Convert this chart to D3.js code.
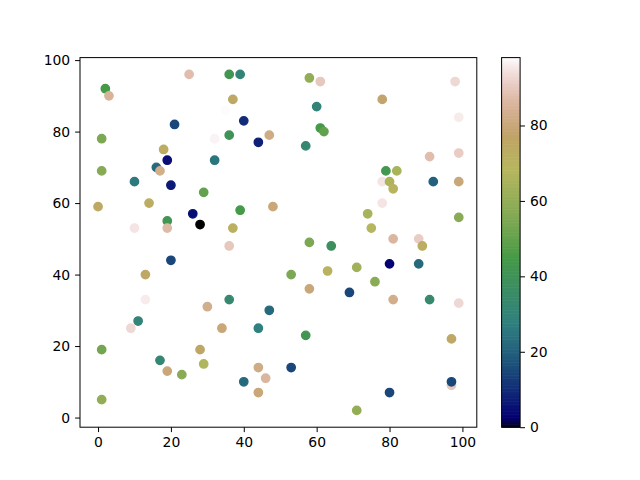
<!DOCTYPE html>
<html>
<head>
<meta charset="utf-8">
<script src="https://cdn.jsdelivr.net/npm/d3@7"></script>
<style>
  body { margin: 0; background: #fff; }
  text { font-family: "DejaVu Sans", sans-serif; }
</style>
</head>
<body>
<div id="chart-area"></div>
<script>
// scatter points
var xs = [2, 3, 25, 36, 39, 37, 35, 40, 21, 47, 36, 32, 44, 1, 18, 19, 16, 17, 32, 1,
          10, 20, 29, 0, 14, 39, 48, 26, 19, 28, 10, 19, 37, 58, 61, 98, 78, 60, 99, 61,
          62, 57, 91, 99, 79, 82, 78, 80, 81, 92, 99, 78, 74, 75, 99, 36, 20, 13, 13, 30,
          36, 47, 11, 9, 34, 44, 1, 28, 17, 29, 19, 23, 44, 46, 40, 44, 1, 58, 64, 81,
          88, 89, 80, 88, 53, 63, 71, 76, 58, 69, 81, 91, 99, 57, 97, 53, 97, 97, 80, 71];
var ys = [92, 90, 96, 96, 96, 89, 86, 83, 82, 79, 79, 78, 77, 78, 75, 72, 70, 69, 72, 69,
          66, 65, 63, 59, 60, 58, 59, 57, 55, 54, 53, 53, 53, 95, 94, 94, 89, 87, 84, 81,
          80, 76, 73, 74, 69, 69, 66, 66, 64, 66, 66, 60, 57, 53, 56, 48, 44, 40, 33, 31,
          33, 30, 27, 25, 25, 25, 19, 19, 16, 15, 13, 12, 14, 11, 10, 7, 5, 49, 48, 50,
          50, 48, 43, 43, 40, 41, 42, 38, 36, 35, 33, 33, 32, 23, 22, 14, 9, 10, 7, 2];
var cs = [45, 85, 88, 42, 30, 75, 98, 10, 15, 82, 40, 97, 8, 55, 73, 5, 22, 83, 25, 57,
          26, 7, 50, 75, 73, 45, 80, 5, 42, 0, 95, 87, 72, 60, 90, 93, 78, 30, 96, 45,
          50, 32, 88, 91, 43, 65, 95, 66, 70, 20, 80, 95, 65, 68, 58, 90, 15, 75, 96, 83,
          33, 22, 30, 93, 80, 28, 53, 76, 32, 67, 80, 58, 82, 86, 22, 80, 60, 55, 38, 86,
          91, 73, 3, 22, 55, 70, 63, 58, 80, 15, 83, 33, 93, 42, 75, 15, 90, 15, 15, 60];

var axisTicks = [0, 20, 40, 60, 80, 100];
var cbarTicks = [0, 20, 40, 60, 80];

// gist_earth segment data (matplotlib)
var earthR = [[0, 0], [0.2824, 0.1882], [0.4588, 0.2714], [0.5490, 0.4719], [0.6980, 0.7176],
              [0.7882, 0.7553], [1, 0.9922]];
var earthG = [[0, 0], [0.0275, 0], [0.1098, 0.1893], [0.1647, 0.3035], [0.2078, 0.3841],
              [0.2824, 0.5020], [0.5216, 0.6397], [0.6980, 0.7171], [0.7882, 0.6392],
              [0.7922, 0.6413], [0.8000, 0.6447], [0.8078, 0.6481], [0.8157, 0.6549],
              [0.8667, 0.6991], [0.8745, 0.7103], [0.8824, 0.7216], [0.8902, 0.7323],
              [0.8980, 0.7430], [0.9412, 0.8275], [0.9569, 0.8635], [0.9647, 0.8816],
              [0.9961, 0.9733], [1, 0.9843]];
var earthB = [[0, 0], [0.0039, 0.1684], [0.0078, 0.2212], [0.0275, 0.4329], [0.0314, 0.4549],
              [0.2824, 0.5004], [0.4667, 0.2748], [0.5451, 0.3205], [0.7843, 0.3961],
              [0.8941, 0.6651], [1, 0.9843]];

function channel(seg, t) {
    for (var i = 1; i < seg.length; i++) {
        if (t <= seg[i][0]) {
            var a = seg[i - 1], b = seg[i];
            return a[1] + (b[1] - a[1]) * (t - a[0]) / (b[0] - a[0]);
        }
    }
    return seg[seg.length - 1][1];
}
function gistEarth(t) {
    t = Math.max(0, Math.min(1, t));
    return d3.rgb(channel(earthR, t) * 255, channel(earthG, t) * 255, channel(earthB, t) * 255).toString();
}

var margin = { left: 80, right: 163.2, top: 57.6, bottom: 52.8 };
var width = 640 - margin.left - margin.right;
var height = 480 - margin.top - margin.bottom;

var svg = d3.select("#chart-area")
    .append("svg")
    .attr("width", 640)
    .attr("height", 480);

var g = svg.append("g")
    .attr("transform", "translate(" + margin.left + "," + margin.top + ")");

var xMin = d3.min(xs), xMax = d3.max(xs);
var yMin = d3.min(ys), yMax = d3.max(ys);
var xPad = (xMax - xMin) * 0.05, yPad = (yMax - yMin) * 0.05;

var x = d3.scaleLinear()
    .domain([xMin - xPad, xMax + xPad])
    .range([0, width]);
var y = d3.scaleLinear()
    .domain([yMin - yPad, yMax + yPad])
    .range([height, 0]);
var color = d3.scaleSequential(gistEarth)
    .domain([d3.min(cs), d3.max(cs)]);

var xAxisCall = d3.axisBottom(x).tickValues(axisTicks).tickSize(4.9).tickPadding(4.9);
var yAxisCall = d3.axisLeft(y).tickValues(axisTicks).tickSize(4.9).tickPadding(4.9);

g.append("g")
    .attr("class", "x-axis")
    .attr("transform", "translate(0," + height + ")")
    .call(xAxisCall);
g.append("g")
    .attr("class", "y-axis")
    .call(yAxisCall);

g.selectAll("circle")
    .data(d3.range(xs.length))
    .enter()
    .append("circle")
    .attr("cx", function(i) { return x(xs[i]); })
    .attr("cy", function(i) { return y(ys[i]); })
    .attr("r", 4.17)
    .attr("fill", function(i) { return color(cs[i]); })
    .attr("stroke", function(i) { return color(cs[i]); })
    .attr("stroke-width", 1.4);

g.append("rect")
    .attr("width", width)
    .attr("height", height)
    .attr("fill", "none")
    .attr("stroke", "#000")
    .attr("stroke-width", 1);

// colorbar
var cbX = 421.6, cbW = 18.5;
var cb = g.append("g")
    .attr("transform", "translate(" + cbX + ",0)");

var cy = d3.scaleLinear()
    .domain(color.domain())
    .range([height, 0]);

var steps = d3.range(0, 256);
cb.selectAll("rect.cell")
    .data(steps)
    .enter()
    .append("rect")
    .attr("class", "cell")
    .attr("x", 0)
    .attr("width", cbW)
    .attr("y", function(s) { return height - (s + 1) * height / 256; })
    .attr("height", height / 256 + 0.6)
    .attr("fill", function(s) { return gistEarth((s + 0.5) / 256); });

cb.append("rect")
    .attr("width", cbW)
    .attr("height", height)
    .attr("fill", "none")
    .attr("stroke", "#000")
    .attr("stroke-width", 1);

cb.append("g")
    .attr("transform", "translate(" + cbW + ",0)")
    .call(d3.axisRight(cy).tickValues(cbarTicks).tickSize(4.9).tickPadding(4.9));

// the frames above stand in for the axis lines
svg.selectAll(".domain").remove();
svg.selectAll(".tick text")
    .attr("font-size", "13.9px")
    .attr("font-family", "DejaVu Sans, sans-serif")
    .attr("fill", "#000");
svg.selectAll(".tick line").attr("stroke", "#000");
</script>
</body>
</html>
